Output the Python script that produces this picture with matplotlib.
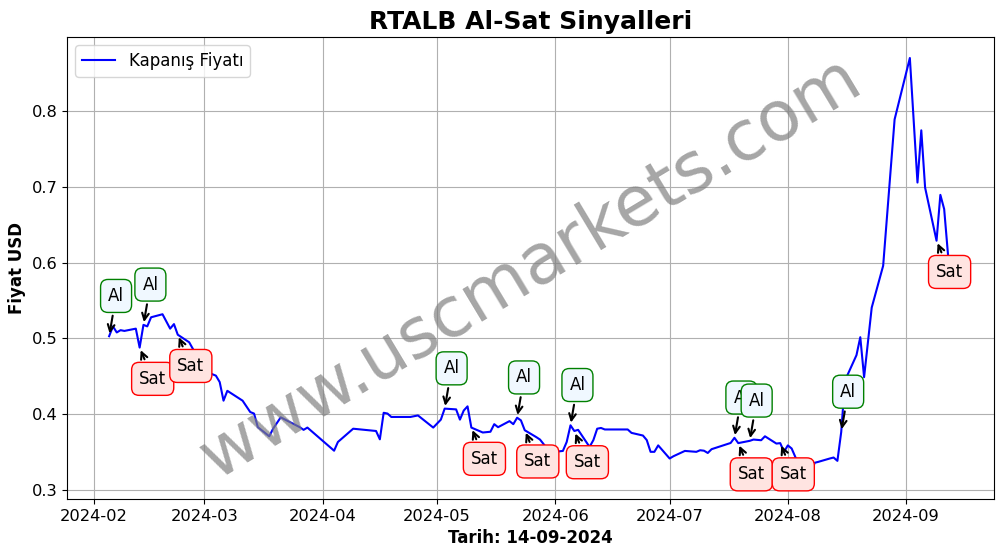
import pandas as pd
import matplotlib
matplotlib.use("Agg")
import matplotlib.pyplot as plt
import matplotlib.dates as mdates

# closing prices
dates = [
    "2024-02-05", "2024-02-06", "2024-02-07", "2024-02-08", "2024-02-09",
    "2024-02-12", "2024-02-13", "2024-02-14", "2024-02-15", "2024-02-16",
    "2024-02-19", "2024-02-21", "2024-02-22", "2024-02-23", "2024-02-26",
    "2024-02-27", "2024-02-28", "2024-02-29", "2024-03-01", "2024-03-04",
    "2024-03-05", "2024-03-06", "2024-03-07", "2024-03-11", "2024-03-13",
    "2024-03-14", "2024-03-15", "2024-03-18", "2024-03-19", "2024-03-21",
    "2024-03-26", "2024-03-27", "2024-03-28", "2024-04-04", "2024-04-05",
    "2024-04-09", "2024-04-15", "2024-04-16", "2024-04-17", "2024-04-18",
    "2024-04-19", "2024-04-24", "2024-04-26", "2024-04-30", "2024-05-02",
    "2024-05-03", "2024-05-06", "2024-05-07", "2024-05-08", "2024-05-09",
    "2024-05-10", "2024-05-13", "2024-05-15", "2024-05-16", "2024-05-17",
    "2024-05-20", "2024-05-21", "2024-05-22", "2024-05-23", "2024-05-24",
    "2024-05-27", "2024-05-28", "2024-05-30", "2024-05-31", "2024-06-03",
    "2024-06-04", "2024-06-05", "2024-06-06", "2024-06-07", "2024-06-10",
    "2024-06-11", "2024-06-12", "2024-06-13", "2024-06-14", "2024-06-20",
    "2024-06-21", "2024-06-24", "2024-06-25", "2024-06-26", "2024-06-27",
    "2024-06-28", "2024-07-01", "2024-07-02", "2024-07-05", "2024-07-08",
    "2024-07-09", "2024-07-10", "2024-07-11", "2024-07-12", "2024-07-17",
    "2024-07-18", "2024-07-19", "2024-07-22", "2024-07-23", "2024-07-25",
    "2024-07-26", "2024-07-29", "2024-07-30", "2024-07-31", "2024-08-01",
    "2024-08-02", "2024-08-05", "2024-08-06", "2024-08-07", "2024-08-08",
    "2024-08-09", "2024-08-12", "2024-08-13", "2024-08-14", "2024-08-15",
    "2024-08-16", "2024-08-19", "2024-08-20", "2024-08-21", "2024-08-23",
    "2024-08-26", "2024-08-29", "2024-09-02", "2024-09-04", "2024-09-05",
    "2024-09-06", "2024-09-09", "2024-09-10", "2024-09-11", "2024-09-12",
    "2024-09-13",
]
prices = [
    0.503, 0.516, 0.508, 0.511, 0.510,
    0.513, 0.488, 0.518, 0.516, 0.528,
    0.532, 0.513, 0.519, 0.505, 0.495,
    0.486, 0.474, 0.465, 0.457, 0.451,
    0.4425, 0.418, 0.431, 0.418, 0.403,
    0.401, 0.383, 0.371, 0.381, 0.396,
    0.383, 0.3795, 0.3825, 0.352, 0.3635,
    0.381, 0.378, 0.367, 0.402, 0.401,
    0.3965, 0.3965, 0.3985, 0.3825, 0.393,
    0.4075, 0.4065, 0.393, 0.405, 0.4105,
    0.3825, 0.376, 0.377, 0.387, 0.383,
    0.391, 0.387, 0.3955, 0.392, 0.379,
    0.370, 0.3667, 0.354, 0.350, 0.3517,
    0.3635, 0.3855, 0.378, 0.3795, 0.357,
    0.366, 0.381, 0.382, 0.380, 0.380,
    0.3755, 0.372, 0.366, 0.3505, 0.3505,
    0.359, 0.3417, 0.3447, 0.3517, 0.3505,
    0.3526, 0.352, 0.349, 0.354, 0.3622,
    0.369, 0.362, 0.365, 0.3667, 0.3658,
    0.371, 0.3614, 0.362, 0.3505, 0.359,
    0.3549, 0.320, 0.322, 0.316, 0.336,
    0.3373, 0.3417, 0.343, 0.3386, 0.3767,
    0.4447, 0.478, 0.5017, 0.449, 0.5408,
    0.596, 0.789, 0.870, 0.7057, 0.7746,
    0.699, 0.629, 0.6895, 0.6707, 0.611,
    0.5675,
]

buy_dates = ["2024-02-05", "2024-02-14", "2024-05-03", "2024-05-22",
             "2024-06-05", "2024-07-18", "2024-07-22", "2024-08-15"]
sell_dates = ["2024-02-13", "2024-02-23", "2024-05-10", "2024-05-24",
              "2024-06-06", "2024-07-19", "2024-07-30", "2024-09-09"]

df = pd.DataFrame({"Date": pd.to_datetime(dates), "Close": prices}).set_index("Date")

fig, ax = plt.subplots(figsize=(10.06, 5.54), dpi=100)
fig.subplots_adjust(left=0.0666, right=0.988, top=0.9332, bottom=0.0993)

ax.plot(df.index, df["Close"], color="blue", lw=1.5, label="Kapanış Fiyatı")

for d in buy_dates:
    t = pd.Timestamp(d)
    ax.annotate("Al", xy=(t, df.loc[t, "Close"]), xytext=(5, 29),
                textcoords="offset points", ha="center", va="center", fontsize=12,
                bbox=dict(boxstyle="round,pad=0.45", fc="aliceblue", ec="green"),
                arrowprops=dict(arrowstyle="->", color="black", lw=1.5))

for d in sell_dates:
    t = pd.Timestamp(d)
    ax.annotate("Sat", xy=(t, df.loc[t, "Close"]), xytext=(9.4, -22.5),
                textcoords="offset points", ha="center", va="center", fontsize=12,
                bbox=dict(boxstyle="round,pad=0.45", fc="mistyrose", ec="red"),
                arrowprops=dict(arrowstyle="->", color="black", lw=1.5))

ax.text(0.5, 0.5, "www.uscmarkets.com", transform=ax.transAxes, fontsize=50,
        color="gray", alpha=0.7, rotation=31, ha="center", va="center")

ax.xaxis.set_major_locator(mdates.MonthLocator())
ax.xaxis.set_major_formatter(mdates.DateFormatter("%Y-%m"))
ax.tick_params(labelsize=11.7)
ax.set_title("RTALB Al-Sat Sinyalleri", fontsize=18, fontweight="bold")
ax.set_xlabel("Tarih: 14-09-2024", fontsize=12, fontweight="bold")
ax.set_ylabel("Fiyat USD", fontsize=12, fontweight="bold")
ax.grid(True)
ax.legend(loc="upper left", fontsize=12)

fig.savefig("out.png", dpi=100)
